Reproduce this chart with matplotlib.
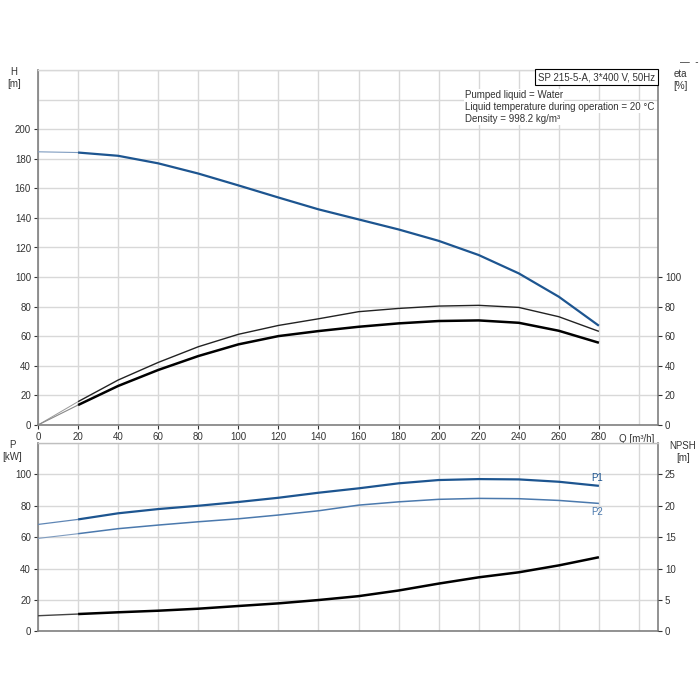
import matplotlib
matplotlib.use("Agg")
import matplotlib.pyplot as plt
from matplotlib.ticker import FixedLocator

# ---- data ----
Q = [0, 20, 40, 60, 80, 100, 120, 140, 160, 180, 200, 220, 240, 260, 280]
H = [184.7, 184.2, 182.0, 176.9, 170.0, 162.0, 153.8, 145.8, 139.0, 132.2, 124.5, 114.9, 102.5, 86.7, 67.1]
eta_pump = [0, 15.8, 30.4, 42.3, 52.9, 61.3, 67.3, 71.8, 76.6, 78.8, 80.4, 80.9, 79.5, 73.2, 63.3]
eta_total = [0, 13.5, 26.4, 37.2, 46.6, 54.5, 60.1, 63.5, 66.4, 68.7, 70.3, 70.7, 69.1, 63.7, 55.6]
P1 = [68.1, 71.3, 75.2, 77.9, 80.0, 82.4, 85.1, 88.3, 91.1, 94.3, 96.4, 97.0, 96.8, 95.3, 92.7]
P2 = [59.2, 62.2, 65.4, 67.7, 69.8, 71.7, 74.1, 76.8, 80.4, 82.5, 84.1, 84.7, 84.5, 83.4, 81.5]
NPSH = [2.48, 2.75, 3.03, 3.28, 3.6, 4.03, 4.45, 4.98, 5.6, 6.5, 7.6, 8.6, 9.4, 10.5, 11.8]

x_ticks = list(range(0, 281, 20))
h_ticks = list(range(0, 201, 20))
eta_ticks = list(range(0, 101, 20))
p_ticks = list(range(0, 101, 20))
npsh_ticks = list(range(0, 26, 5))

info_title = "SP 215-5-A, 3*400 V, 50Hz"
info_lines = ["Pumped liquid = Water",
              "Liquid temperature during operation = 20 °C",
              "Density = 998.2 kg/m³"]

plt.rcParams['font.family'] = ['Liberation Sans', 'DejaVu Sans']
FS = 7
GRID = '#d8d8d8'
SPINE = '#7f7f7f'
BLUE = '#1d5590'
BLUE2 = '#4b79ad'
TXT = '#333333'

fig = plt.figure(figsize=(7, 7), dpi=100)
fig.patch.set_facecolor('white')

ax1 = fig.add_axes([38/700, 1-425/700, 620/700, 355/700])
ax2 = fig.add_axes([38/700, 1-631.3/700, 620/700, 188.3/700])

def style(ax, topcolor, ymax, ylabels):
    ax.set_xlim(0, 309.5)
    ax.set_ylim(0, ymax)
    ax.set_yticks(ylabels)
    ax.yaxis.set_minor_locator(FixedLocator([v for v in range(0, ymax + 1, 20) if v not in ylabels]))
    ax.set_xticks(x_ticks)
    ax.xaxis.set_minor_locator(FixedLocator([300]))
    ax.grid(True, which='both', color=GRID, linewidth=1.0)
    ax.set_axisbelow(True)
    for s in ['left', 'bottom', 'right']:
        ax.spines[s].set_color(SPINE)
        ax.spines[s].set_linewidth(1.2)
    ax.spines['top'].set_color(topcolor)
    ax.spines['top'].set_linewidth(1.0)
    ax.tick_params(axis='both', which='major', labelsize=FS, colors=TXT, length=3, width=0.8, pad=2)
    ax.tick_params(axis='both', which='minor', length=0)

def draw(ax, x, y, color, lw, thin_color, thin_lw):
    ax.plot(x[:2], y[:2], color=thin_color, lw=thin_lw, solid_capstyle='butt', zorder=3)
    ax.plot(x[1:], y[1:], color=color, lw=lw, solid_capstyle='butt', zorder=3)

# ---- top panel ----
style(ax1, GRID, 240, h_ticks)

draw(ax1, Q, H, BLUE, 1.6, '#7f9cc0', 0.8)
draw(ax1, Q, eta_pump, '#222222', 1.0, '#999999', 0.7)
draw(ax1, Q, eta_total, '#000000', 1.8, '#888888', 0.8)

ax1e = ax1.twinx()
ax1e.set_ylim(0, 240)
ax1e.set_yticks(eta_ticks)
ax1e.tick_params(axis='y', labelsize=FS, colors=TXT, length=3, width=0.8, pad=2)
for s in ax1e.spines.values():
    s.set_visible(False)

ax1.text(299, -6, "Q [m³/h]", fontsize=FS, color=TXT, ha='center', va='top', clip_on=False)
fig.text(14/700, 1-78/700, "H\n[m]", fontsize=FS, color=TXT, ha='center', va='center', linespacing=1.2)
fig.text(680/700, 1-80/700, "eta\n[%]", fontsize=FS, color=TXT, ha='center', va='center', linespacing=1.2)
fig.text(689/700, 1-62/700, "—  -", fontsize=FS, color=TXT, ha='center', va='center')

ax1.text(0.996, 0.994, info_title, transform=ax1.transAxes, fontsize=FS, color=TXT,
         ha='right', va='top',
         bbox=dict(boxstyle='square,pad=0.3', facecolor='white', edgecolor='#000000', linewidth=0.8))
for i, line in enumerate(info_lines):
    ax1.text(427/620, 1 - (25 + i*12)/355, line, transform=ax1.transAxes, fontsize=FS,
             color=TXT, ha='left', va='center',
             bbox=dict(boxstyle='square,pad=0.1', facecolor='white', edgecolor='none'))

# ---- bottom panel ----
style(ax2, '#bfbfbf', 120, p_ticks)
ax2.tick_params(axis='x', labelbottom=False, length=0)

draw(ax2, Q, P1, BLUE, 1.6, '#5f86b5', 0.9)
draw(ax2, Q, P2, BLUE2, 1.1, '#7f9cc0', 0.8)

ax2n = ax2.twinx()
ax2n.set_ylim(0, 30)
ax2n.set_yticks(npsh_ticks)
ax2n.tick_params(axis='y', labelsize=FS, colors=TXT, length=3, width=0.8, pad=2)
for s in ax2n.spines.values():
    s.set_visible(False)
draw(ax2n, Q, NPSH, '#000000', 1.8, '#444444', 1.0)

ax2.text(Q[-1] - 4, P1[-1] + 2.0, "P1", fontsize=FS, color=BLUE, ha='left', va='bottom')
ax2.text(Q[-1] - 4, P2[-1] - 2.0, "P2", fontsize=FS, color=BLUE2, ha='left', va='top')
fig.text(12/700, 1-451/700, "P\n[kW]", fontsize=FS, color=TXT, ha='center', va='center', linespacing=1.2)
fig.text(683/700, 1-452/700, "NPSH\n[m]", fontsize=FS, color=TXT, ha='center', va='center', linespacing=1.2)

fig.savefig("out.png", dpi=100, facecolor='white')
